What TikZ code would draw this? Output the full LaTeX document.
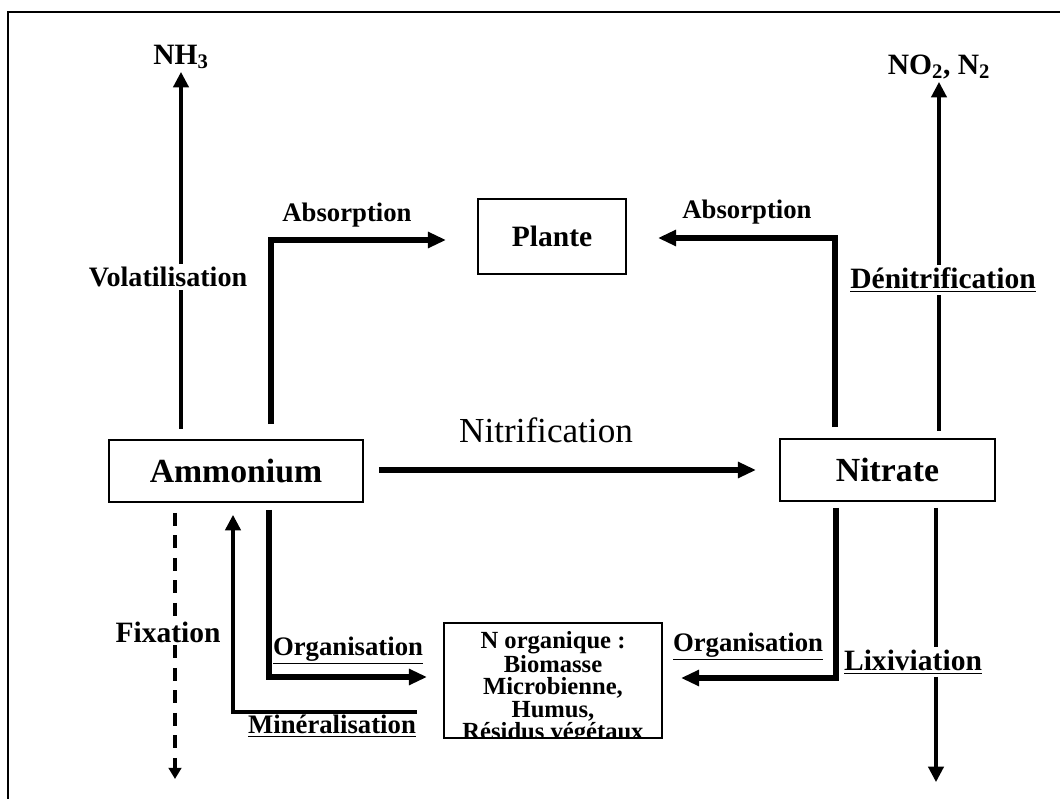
\documentclass[tikz,border=0pt]{standalone}
\usepackage{fontspec}
\setmainfont{Liberation Serif}
\usepackage{tikz}
\usetikzlibrary{arrows.meta,calc,positioning}

\tikzset{
  boite/.style={draw,line width=1.3pt,inner sep=0pt,font=\bfseries\fontsize{24}{28}\selectfont},
  proc/.style={inner sep=2pt,font=\bfseries\fontsize{19}{22}\selectfont},
  procgros/.style={inner sep=2pt,font=\bfseries\fontsize{21}{24}\selectfont},
  grosse/.style={line width=3.6pt,-{Triangle[length=13pt,width=11pt]}},
  fine/.style={line width=2.2pt},
  finefleche/.style={fine,-{Triangle[length=11pt,width=11pt]}},
}

\begin{document}
\begin{tikzpicture}[x=0.025cm,y=-0.025cm]
        \useasboundingbox (0,0) rectangle (1060,799);
        %Frame
        \draw[line width=2pt] (8,830) -- (8,12) -- (1090,12);
        %Boxes
        \node[boite,minimum width=6.35cm,minimum height=1.55cm] (amm) at (236,471) {Ammonium};
        \node[boite,minimum width=5.375cm,minimum height=1.55cm] (nit) at (887.5,470) {Nitrate};
        \node[boite,minimum width=3.7cm,minimum height=1.875cm,font=\bfseries\fontsize{21}{24}\selectfont] (pla) at (552,236.5) {Plante};
        \node[boite,minimum width=5.45cm,minimum height=2.875cm] (norg) at (553,680.5) {};
        \begin{scope}
          \clip (norg.south west) rectangle (norg.north east);
          \node[align=center,inner sep=0pt,anchor=north,font=\bfseries\fontsize{17.5}{16}\selectfont] (norgtxt) at (553,631) {N organique :\\Biomasse\\Microbienne,\\Humus,\\Résidus végétaux};
        \end{scope}
        %Gases
        \node[procgros,anchor=south] (nh3) at (181,72) {NH\textsubscript{3}};
        \node[procgros,anchor=south] (no2) at (939,82) {NO\textsubscript{2}, N\textsubscript{2}};
        \coordinate (fixbas) at (175,779);
        \coordinate (lixbas) at (936,782);
        %Labels
        \node[proc] (abs1) at (347,215) {Absorption};
        \node[proc] (abs2) at (747,212) {Absorption};
        \node[proc,font=\bfseries\fontsize{20}{22}\selectfont] (vol) at (168,277) {Volatilisation};
        \node[procgros] (dnit) at (943,280) {\underline{Dénitrification}};
        \node[font=\fontsize{25}{28}\selectfont] (nitri) at (546,430) {Nitrification};
        \node[procgros] (fix) at (168,632) {Fixation};
        \node[proc] (org1) at (348,651) {\underline{Organisation}};
        \node[proc] (org2) at (748,647) {\underline{Organisation}};
        \node[proc] (min) at (332,726) {\underline{Minéralisation}};
        \node[procgros] (lix) at (913,662) {\underline{Lixiviation}};
        %Volatilisation and denitrification
        \draw[finefleche] (vol.north -| nh3.south) -- (nh3.south);
        \draw[fine] (vol.south -| nh3.south) -- ($(amm.north -| nh3.south)+(0,-10)$);
        \draw[finefleche] (dnit.north -| no2.south) -- (no2.south);
        \draw[fine] (dnit.south -| no2.south) -- ($(nit.north -| no2.south)+(0,-7)$);
        %Absorption
        \draw[grosse] ($(amm.north)+(35,-15)$) |- ($(pla.west)+(-31,3.5)$);
        \draw[grosse] ($(nit.north)+(-52.5,-11)$) |- ($(pla.east)+(31,1.5)$);
        %Nitrification
        \draw[grosse] ($(amm.east)+(15,-1)$) -- ($(nit.west)+(-23,0)$);
        %Organisation and mineralisation
        \draw[grosse] ($(amm.south)+(33,7)$) |- ($(norg.west)+(-16,-3.5)$);
        \draw[grosse] ($(nit.south)+(-51.5,6)$) |- ($(norg.east)+(18,-2.5)$);
        \draw[finefleche] ($(norg.west)+(-26,31.5)$) -| ($(amm.south)+(-3,12)$);
        %Fixation and lixiviation
        \draw[line width=3pt,dash pattern=on 9pt off 7pt] ($(amm.south -| fixbas)+(0,10)$) -- (fix.north -| fixbas);
        \draw[line width=3pt,dash pattern=on 9pt off 7pt,-{Triangle[length=8pt,width=9pt]}] (fix.south -| fixbas) -- (fixbas);
        \draw[fine] ($(nit.south -| lixbas)+(0,6)$) -- (lix.north -| lixbas);
        \draw[finefleche] (lix.south -| lixbas) -- (lixbas);
\end{tikzpicture}
\end{document}
